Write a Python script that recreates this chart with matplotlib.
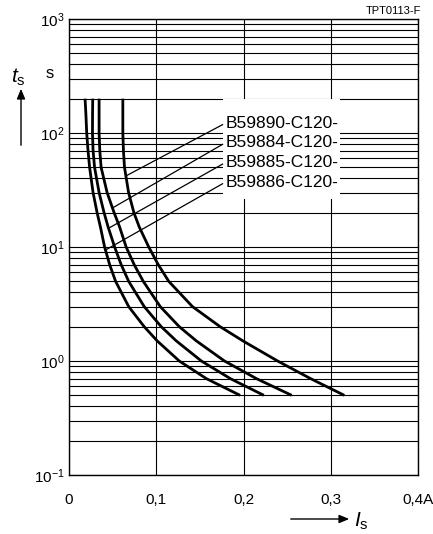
#!/usr/bin/env python3
"""
Tripping time t_s vs switching current I_s, four PTC types (log t axis)
out: out.png
"""
import numpy as np
import matplotlib
matplotlib.use("Agg")
import matplotlib.pyplot as plt
from matplotlib.patches import Rectangle, FancyArrowPatch
from matplotlib.ticker import FixedLocator, NullFormatter

plt.rcParams["font.family"] = ["Liberation Sans", "DejaVu Sans"]
plt.rcParams["mathtext.fontset"] = "custom"
plt.rcParams["mathtext.rm"] = "Liberation Sans"
plt.rcParams["mathtext.it"] = "Liberation Sans:italic"

# switching time [s] and current [A] per type
t_s = [200, 150, 100, 70, 50, 30, 20, 15, 10, 7, 5, 3, 2, 1.5, 1, 0.7, 0.5]
i_b59886 = [0.0184, 0.0193, 0.0203, 0.0218, 0.0236, 0.0276, 0.0322, 0.036, 0.0408,
            0.0466, 0.0534, 0.0684, 0.0862, 0.1011, 0.1264, 0.1575, 0.196]
i_b59885 = [0.0272, 0.027, 0.0269, 0.0276, 0.0293, 0.0345, 0.0402, 0.0448, 0.0523,
            0.0598, 0.0684, 0.0862, 0.1057, 0.123, 0.1517, 0.185, 0.2233]
i_b59884 = [0.0345, 0.0345, 0.0345, 0.0353, 0.0368, 0.0437, 0.0517, 0.058, 0.0655,
            0.0747, 0.0851, 0.1046, 0.1264, 0.146, 0.1782, 0.2149, 0.2552]
i_b59890 = [0.0617, 0.0617, 0.0617, 0.0624, 0.0636, 0.0683, 0.0744, 0.0805, 0.0914,
            0.1023, 0.1143, 0.1415, 0.1732, 0.1994, 0.2391, 0.277, 0.3155]

labels = ["B59890-C120-", "B59884-C120-", "B59885-C120-", "B59886-C120-"]
label_t = [122, 82, 55, 37]          # where the label texts sit (s)
leader_t = [42, 22, 14.6, 9.4]       # where the leader hits its curve (s)

x_ticks = [0, 0.1, 0.2, 0.3, 0.4]
x_ticklabels = ["0", "0,1", "0,2", "0,3", "0,4A"]
y_ticks = [0.1, 1, 10, 100, 1000]
y_ticklabels = ["$10^{-1}$", "$10^0$", "$10^1$", "$10^2$", "$10^3$"]

fig = plt.figure(figsize=(4.33, 5.34), dpi=100)
ax = fig.add_axes([69/433, 1-475/534, 349/433, 456/534])
ax.set_yscale("log")
ax.set_xlim(0, 0.4)
ax.set_ylim(0.1, 1000)

# grid: decades + 2..9, verticals every 0.1
minors = [m*10.0**e for e in range(-1, 3) for m in range(2, 10)]
ax.yaxis.set_minor_locator(FixedLocator(minors))
ax.yaxis.set_minor_formatter(NullFormatter())
ax.set_yticks(y_ticks)
ax.set_yticklabels(y_ticklabels, fontsize=11)
ax.set_xticks(x_ticks)
ax.set_xticklabels(x_ticklabels, fontsize=11)
ax.tick_params(which="both", length=0)
ax.tick_params(axis="x", pad=13)
ax.tick_params(axis="y", pad=3)
ax.set_axisbelow(True)
ax.grid(True, which="both", color="black", lw=0.8)
for sp in ax.spines.values():
  sp.set_linewidth(1.0)

# white field behind the type labels
ax.add_patch(Rectangle((0.176, 26.4), 0.311-0.176, 197-26.4,
                       facecolor="white", edgecolor="none", zorder=1))

curves = [i_b59890, i_b59884, i_b59885, i_b59886]
for ii in curves:
  ax.plot(ii, t_s, color="black", lw=2.0, zorder=3, solid_capstyle="butt")

# labels with leader lines onto the curves
logt = np.log10(t_s)[::-1]
for lab, ty, tl, ii in zip(labels, label_t, leader_t, curves):
  xc = np.interp(np.log10(tl), logt, np.array(ii)[::-1])
  ax.plot([0.176, xc], [ty*0.97, tl], color="black", lw=0.9, zorder=3)
  ax.text(0.179, ty, lab, fontsize=12.5, ha="left", va="center", zorder=4)

# axis titles with arrows
fig.text(18/433, 1-77/534, "$t_{\\rm s}$", fontsize=15, ha="center", va="center")
fig.text(50/433, 1-74/534, "s", fontsize=12, ha="center", va="center")
fig.patches.append(FancyArrowPatch(
  (21/433, 1-148/534), (21/433, 1-86/534), transform=fig.transFigure,
  arrowstyle="-|>,head_length=6,head_width=2.5", color="black", lw=1.0))
fig.patches.append(FancyArrowPatch(
  (288/433, 1-519/534), (352/433, 1-519/534), transform=fig.transFigure,
  arrowstyle="-|>,head_length=6,head_width=2.5", color="black", lw=1.0))
fig.text(361/433, 1-521/534, "$I_{\\rm s}$", fontsize=15, ha="center", va="center")
fig.text(421/433, 1-11/534, "TPT0113-F", fontsize=8, ha="right", va="center")

fig.savefig("out.png", dpi=100)
print("done")
